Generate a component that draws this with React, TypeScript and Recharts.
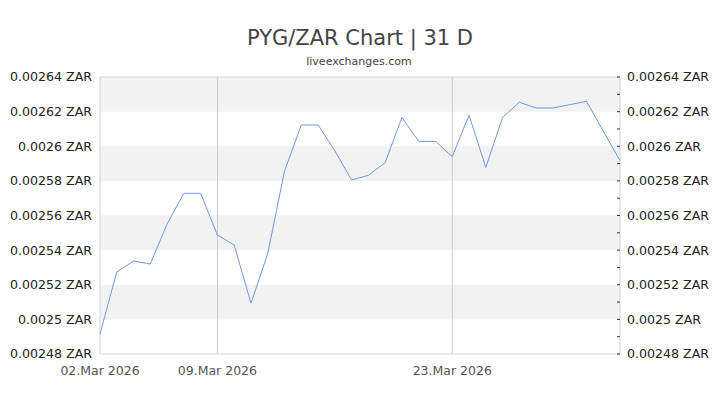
import React from 'react';
import {
  LineChart,
  Line,
  XAxis,
  YAxis,
  ReferenceArea,
  ReferenceLine,
} from 'recharts';

// daily PYG/ZAR rate, 02.Mar 2026 .. 02.Apr 2026
const days = [
  '02.Mar 2026', '03.Mar 2026', '04.Mar 2026', '05.Mar 2026', '06.Mar 2026', '07.Mar 2026',
  '08.Mar 2026', '09.Mar 2026', '10.Mar 2026', '11.Mar 2026', '12.Mar 2026', '13.Mar 2026',
  '14.Mar 2026', '15.Mar 2026', '16.Mar 2026', '17.Mar 2026', '18.Mar 2026', '19.Mar 2026',
  '20.Mar 2026', '21.Mar 2026', '22.Mar 2026', '23.Mar 2026', '24.Mar 2026', '25.Mar 2026',
  '26.Mar 2026', '27.Mar 2026', '28.Mar 2026', '29.Mar 2026', '30.Mar 2026', '31.Mar 2026',
  '01.Apr 2026', '02.Apr 2026',
];

const rates = [
  0.0024916, 0.0025274, 0.0025337, 0.002532, 0.0025551, 0.0025728,
  0.0025728, 0.0025487, 0.002543, 0.0025093, 0.0025381, 0.0025857,
  0.0026123, 0.0026123, 0.0025974, 0.0025805, 0.0025832, 0.0025905,
  0.0026167, 0.0026028, 0.0026028, 0.002594, 0.0026179, 0.0025878,
  0.0026167, 0.0026254, 0.0026221, 0.0026221, 0.002624, 0.002626,
  0.0026088, 0.0025917,
];

const majorTicks = [0.00248, 0.0025, 0.00252, 0.00254, 0.00256, 0.00258, 0.0026, 0.00262, 0.00264];
const minorTicks = [
  0.00248, 0.00249, 0.0025, 0.00251, 0.00252, 0.00253, 0.00254, 0.00255, 0.00256,
  0.00257, 0.00258, 0.00259, 0.0026, 0.00261, 0.00262, 0.00263, 0.00264,
];
const shadedBands = [
  [0.0025, 0.00252],
  [0.00254, 0.00256],
  [0.00258, 0.0026],
  [0.00262, 0.00264],
];
const xTicks = [0, 7, 21];
const gridDays = [7, 21];

const data = rates.map((rate, i) => ({ i, day: days[i], rate }));

const FONT = '"DejaVu Sans", Verdana, sans-serif';

const isMajor = (v: number) => Math.round(v * 1e5) % 2 === 0;

// right axis: tiny inward tick every 0.00001, label on the even ones
const renderRightTick = (props: any) => {
  const { x, y, payload } = props;
  const v = payload.value as number;
  return (
    <g key={`rt-${v}`}>
      <line x1={x - 11} x2={x - 8} y1={y} y2={y} stroke="#333" strokeWidth={1} />
      {isMajor(v) && (
        <text x={x - 1} y={y} dy="0.35em" textAnchor="start" fontSize={12.6} fontFamily={FONT} fill="#222">
          {`${v} ZAR`}
        </text>
      )}
    </g>
  );
};

const App: React.FC = () => {
  return (
    <div style={{ position: 'absolute', left: 0, top: 0, width: 720, height: 405, background: '#fff' }}>
      <div
        style={{
          position: 'absolute', left: 0, width: 720, top: 26, textAlign: 'center',
          fontFamily: FONT, fontSize: 21, color: '#444', lineHeight: '24px',
        }}
      >
        PYG/ZAR Chart | 31 D
      </div>
      <div
        style={{
          position: 'absolute', left: 0, width: 718, top: 55, textAlign: 'center',
          fontFamily: FONT, fontSize: 11, color: '#444', lineHeight: '14px',
        }}
      >
        liveexchanges.com
      </div>
      <LineChart
        width={720}
        height={405}
        data={data}
        margin={{ top: 77, right: 0, bottom: 21, left: 0 }}
      >
        {shadedBands.map(([lo, hi]) => (
          <ReferenceArea
            key={lo}
            yAxisId="left"
            x1={0}
            x2={31}
            y1={lo}
            y2={hi}
            fill="#f2f2f2"
            fillOpacity={1}
            stroke="none"
            ifOverflow="hidden"
          />
        ))}
        {gridDays.map((d) => (
          <ReferenceLine key={d} yAxisId="left" x={d} stroke="#cccccc" strokeWidth={1} />
        ))}
        <ReferenceArea
          yAxisId="left"
          x1={0}
          x2={31}
          y1={0.00248}
          y2={0.00264}
          fill="none"
          stroke="#d3d3d3"
          strokeWidth={1}
        />
        <XAxis
          dataKey="i"
          type="number"
          domain={[0, 31]}
          ticks={xTicks}
          tickFormatter={(v: number) => days[v]}
          axisLine={false}
          tickLine={false}
          tickMargin={6}
          height={30}
          interval={0}
          tick={{ fontSize: 12.5, fill: '#555', fontFamily: FONT }}
        />
        <YAxis
          yAxisId="left"
          orientation="left"
          width={100}
          domain={[0.00248, 0.00264]}
          ticks={majorTicks}
          tickFormatter={(v: number) => `${v} ZAR`}
          axisLine={false}
          tickLine={false}
          interval={0}
          tick={{ fontSize: 12.6, fill: '#222', fontFamily: FONT }}
        />
        <YAxis
          yAxisId="right"
          orientation="right"
          width={100}
          domain={[0.00248, 0.00264]}
          allowDataOverflow
          ticks={minorTicks}
          axisLine={false}
          tickLine={false}
          interval={0}
          tick={renderRightTick}
        />
        {/* mirror series so the right axis gets scaled and drawn */}
        <Line
          yAxisId="right"
          type="linear"
          dataKey="rate"
          stroke="none"
          strokeOpacity={0}
          dot={false}
          activeDot={false}
          isAnimationActive={false}
        />
        <Line
          yAxisId="left"
          type="linear"
          dataKey="rate"
          stroke="#7096e6"
          strokeWidth={1}
          dot={false}
          isAnimationActive={false}
        />
      </LineChart>
    </div>
  );
};

export default App;
